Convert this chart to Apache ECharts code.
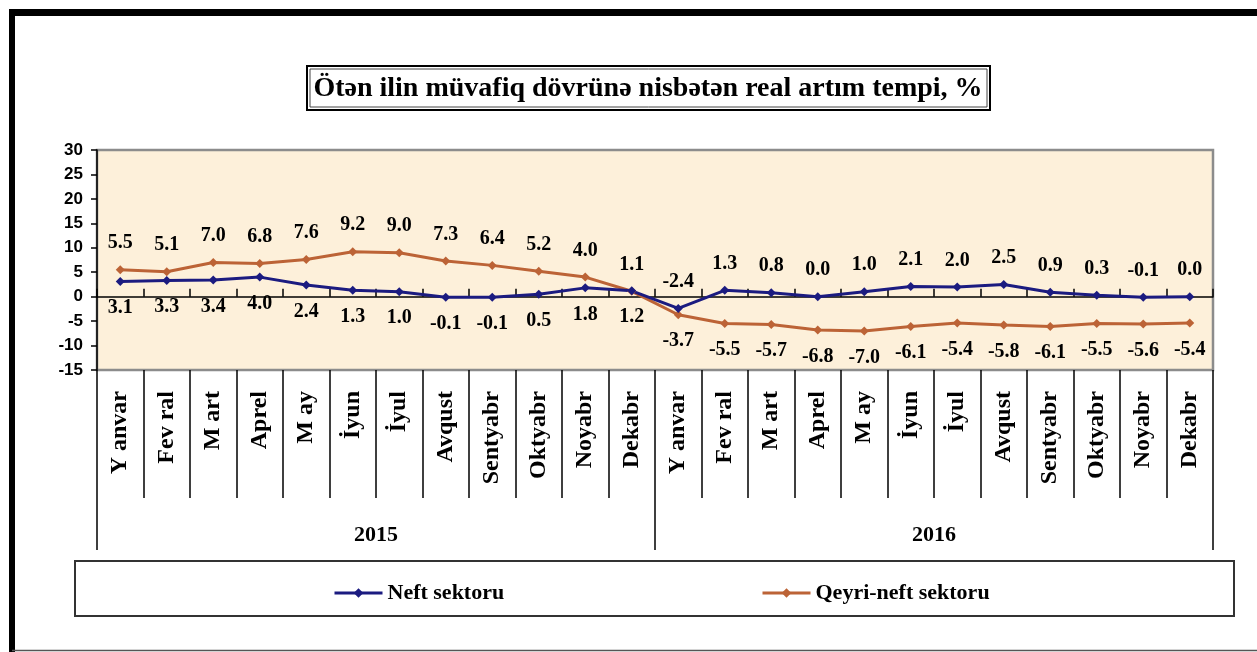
<!DOCTYPE html>
<html>
<head>
<meta charset="utf-8">
<script src="https://cdn.jsdelivr.net/npm/echarts@6/dist/echarts.min.js"></script>
<style>
  html, body { margin: 0; padding: 0; background: #fff; }
  #main { width: 1257px; height: 652px; }
</style>
</head>
<body>
<div id="main"></div>
<script>
// kateqoriyalar
var months = ['Y anvar', 'Fev ral', 'M art', 'Aprel', 'M ay', 'İyun', 'İyul', 'Avqust', 'Sentyabr', 'Oktyabr', 'Noyabr', 'Dekabr'];
var years = ['2015', '2016'];
// seriyalar
var neftName = 'Neft sektoru';
var qeyriName = 'Qeyri-neft sektoru';
var neft = [3.1, 3.3, 3.4, 4.0, 2.4, 1.3, 1.0, -0.1, -0.1, 0.5, 1.8, 1.2,
            -2.4, 1.3, 0.8, 0.0, 1.0, 2.1, 2.0, 2.5, 0.9, 0.3, -0.1, 0.0];
var qeyri = [5.5, 5.1, 7.0, 6.8, 7.6, 9.2, 9.0, 7.3, 6.4, 5.2, 4.0, 1.1,
             -3.7, -5.5, -5.7, -6.8, -7.0, -6.1, -5.4, -5.8, -6.1, -5.5, -5.6, -5.4];
// y oxu
var yMin = -15, yMax = 30, yStep = 5;

var categories = months.concat(months);
var serif = '"Liberation Serif", "Times New Roman", serif';

var myChart = echarts.init(document.getElementById('main'));

// etiketlərin yeri: 2015 bir tərəfdə, 2016 o biri tərəfdə
function withLabels(arr, first, second) {
  var out = [];
  for (let i = 0; i < arr.length; i++) {
    out.push({
      value: arr[i],
      label: { position: i < 12 ? first : second }
    });
  }
  return out;
}

var labelStyle = {
  show: true,
  distance: 12,
  color: '#000',
  fontFamily: serif,
  fontWeight: 'bold',
  fontSize: 20,
  formatter: function (p) { return p.value.toFixed(1); }
};

var legendText = { fontFamily: serif, fontWeight: 'bold', fontSize: 22, color: '#000' };

var option = {
  backgroundColor: '#fff',
  animation: false,
  grid: {
    left: 97, right: 44, top: 150, bottom: 282,
    show: true,
    backgroundColor: '#FDF0DA',
    borderColor: '#8c8c8c',
    borderWidth: 2.5
  },
  legend: [
    {
      data: [neftName], left: 328, top: 577,
      itemWidth: 48, itemHeight: 12, itemGap: 4,
      lineStyle: { width: 3 },
      textStyle: legendText
    },
    {
      data: [qeyriName], left: 756, top: 577,
      itemWidth: 48, itemHeight: 12, itemGap: 4,
      lineStyle: { width: 3 },
      textStyle: legendText
    }
  ],
  xAxis: [
    {
      // sıfır xətti
      type: 'category', data: categories, position: 'top',
      axisLine: { onZero: true, lineStyle: { color: '#000', width: 1.5 } },
      axisTick: { show: true, interval: 0, inside: false, length: 8, lineStyle: { color: '#000', width: 1.5 } },
      axisLabel: { show: false },
      splitLine: { show: false }
    },
    {
      // aylar
      type: 'category', data: categories, position: 'bottom',
      axisLine: { show: false, onZero: false },
      axisTick: { show: true, interval: 0, length: 128, lineStyle: { color: '#000', width: 1.5 } },
      axisLabel: {
        interval: 0, rotate: 90, margin: 21,
        fontFamily: serif, fontWeight: 'bold', fontSize: 24, color: '#000'
      }
    },
    {
      // illər
      type: 'category', data: years, position: 'bottom',
      axisLine: { show: false, onZero: false },
      axisTick: { show: true, interval: 0, length: 180, lineStyle: { color: '#000', width: 1.5 } },
      axisLabel: {
        interval: 0, margin: 154,
        fontFamily: serif, fontWeight: 'bold', fontSize: 22, color: '#000'
      }
    }
  ],
  yAxis: {
    type: 'value', min: yMin, max: yMax, interval: yStep,
    axisLine: { show: true, lineStyle: { color: '#000', width: 1.5 } },
    axisTick: { show: true, length: 6, lineStyle: { color: '#000', width: 1.5 } },
    axisLabel: {
      margin: 14,
      fontFamily: '"Liberation Sans", Arial, sans-serif', fontWeight: 'bold', fontSize: 17, color: '#000'
    },
    splitLine: { show: false }
  },
  series: [
    {
      name: qeyriName, type: 'line', xAxisIndex: 0,
      data: withLabels(qeyri, 'top', 'bottom'),
      symbol: 'diamond', symbolSize: 9,
      lineStyle: { color: '#BC6336', width: 3 },
      itemStyle: { color: '#BC6336' },
      label: labelStyle
    },
    {
      name: neftName, type: 'line', xAxisIndex: 0,
      data: withLabels(neft, 'bottom', 'top'),
      symbol: 'diamond', symbolSize: 9,
      lineStyle: { color: '#1B1B80', width: 3 },
      itemStyle: { color: '#1B1B80' },
      label: labelStyle
    }
  ],
  graphic: [
    // çərçivə
    { type: 'line', shape: { x1: 12, y1: 9, x2: 12, y2: 652 }, style: { stroke: '#000', lineWidth: 6 } },
    { type: 'line', shape: { x1: 9, y1: 12.5, x2: 1257, y2: 12.5 }, style: { stroke: '#000', lineWidth: 7 } },
    { type: 'line', shape: { x1: 12, y1: 650.5, x2: 1257, y2: 650.5 }, style: { stroke: '#555', lineWidth: 1.5 } },
    // başlıq
    { type: 'rect', shape: { x: 307, y: 66, width: 683, height: 44 }, style: { fill: '#fff', stroke: '#000', lineWidth: 2 } },
    { type: 'rect', shape: { x: 310, y: 69, width: 677, height: 38 }, style: { fill: null, stroke: '#444', lineWidth: 1 } },
    {
      type: 'text', x: 648, y: 89,
      style: {
        text: 'Ötən ilin müvafiq dövrünə nisbətən real artım tempi, %',
        align: 'center', verticalAlign: 'middle',
        font: 'bold 28px "Liberation Serif", serif', fill: '#000'
      }
    },
    // legend qutusu
    { type: 'rect', shape: { x: 75, y: 561, width: 1159, height: 55 }, style: { fill: null, stroke: '#333', lineWidth: 2 }, z: -1 }
  ]
};

myChart.setOption(option);
</script>
</body>
</html>
